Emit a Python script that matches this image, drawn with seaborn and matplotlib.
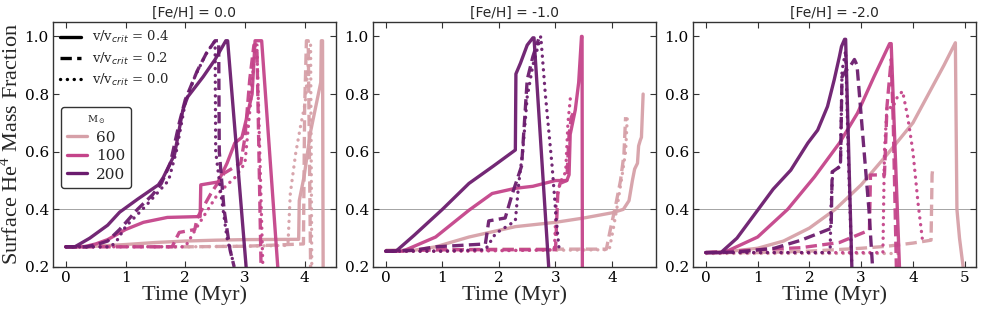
import numpy as np
import pandas as pd
import matplotlib
matplotlib.use("Agg")
import matplotlib.pyplot as plt
from matplotlib.lines import Line2D
import seaborn as sns

# ---- [Fe/H] = 0.0 ----
fe0_m200_v4_t = [0, 0.15, 0.4, 0.7, 0.9, 1.2, 1.55, 1.63, 1.82, 1.96, 2.04, 2.3, 2.5, 2.68, 2.71, 3.02]
fe0_m200_v4_y = [0.27, 0.27, 0.3, 0.345, 0.39, 0.435, 0.485, 0.51, 0.59, 0.745, 0.79, 0.86, 0.92, 0.985, 0.985, 0.2]
fe0_m200_v2_t = [0, 0.35, 0.55, 0.7, 0.9, 1.2, 1.45, 1.6, 1.75, 1.9, 2.0, 2.2, 2.35, 2.5, 2.56, 2.57, 2.65, 2.75, 2.82]
fe0_m200_v2_y = [0.27, 0.27, 0.28, 0.29, 0.33, 0.40, 0.45, 0.49, 0.56, 0.70, 0.78, 0.88, 0.94, 0.985, 0.985, 0.6, 0.4, 0.26, 0.2]
fe0_m200_v0_t = [0, 0.75, 0.85, 1.0, 1.33, 1.72, 1.85, 2.0, 2.16, 2.35, 2.48, 2.5, 2.51, 2.6, 2.7, 2.8]
fe0_m200_v0_y = [0.27, 0.27, 0.29, 0.34, 0.41, 0.5, 0.6, 0.77, 0.86, 0.94, 0.98, 0.98, 0.6, 0.45, 0.3, 0.22]
fe0_m100_v4_t = [0, 0.3, 0.5, 0.7, 1.0, 1.3, 1.7, 2.25, 2.26, 2.55, 2.7, 2.83, 2.95, 3.02, 3.12, 3.17, 3.28, 3.55]
fe0_m100_v4_y = [0.27, 0.27, 0.28, 0.295, 0.33, 0.355, 0.372, 0.375, 0.485, 0.495, 0.56, 0.63, 0.65, 0.71, 0.80, 0.985, 0.985, 0.2]
fe0_m100_v2_t = [0, 1.78, 1.85, 1.9, 2.16, 2.2, 2.43, 2.65, 2.93, 3.0, 3.08, 3.15, 3.2, 3.27]
fe0_m100_v2_y = [0.27, 0.27, 0.3, 0.32, 0.33, 0.37, 0.455, 0.525, 0.56, 0.65, 0.85, 0.97, 0.97, 0.2]
fe0_m100_v0_t = [0, 2.0, 2.2, 2.55, 2.83, 3.0, 3.09, 3.17, 3.2, 3.3]
fe0_m100_v0_y = [0.27, 0.27, 0.34, 0.455, 0.51, 0.56, 0.76, 0.97, 0.97, 0.2]
fe0_m60_v4_t = [0, 0.5, 1.0, 1.5, 2.0, 2.5, 3.0, 3.9, 3.91, 3.99, 4.1, 4.27, 4.28, 4.3, 4.31]
fe0_m60_v4_y = [0.27, 0.272, 0.278, 0.285, 0.29, 0.293, 0.295, 0.296, 0.43, 0.513, 0.67, 0.84, 0.985, 0.985, 0.2]
fe0_m60_v2_t = [0, 1.0, 2.0, 3.0, 3.98, 4.0, 4.03, 4.06, 4.1]
fe0_m60_v2_y = [0.27, 0.272, 0.27, 0.272, 0.28, 0.75, 0.985, 0.985, 0.2]
fe0_m60_v0_t = [0, 1.0, 2.0, 3.0, 3.72, 3.76, 3.85, 3.93, 4.01, 4.07, 4.1, 4.12]
fe0_m60_v0_y = [0.27, 0.272, 0.27, 0.272, 0.275, 0.455, 0.594, 0.687, 0.77, 0.93, 0.97, 0.2]

# ---- [Fe/H] = -1.0 ----
fe1_m200_v4_t = [0, 0.18, 0.5, 1.0, 1.47, 1.9, 2.29, 2.3, 2.38, 2.5, 2.6, 2.62, 2.88]
fe1_m200_v4_y = [0.255, 0.255, 0.31, 0.4, 0.49, 0.55, 0.606, 0.87, 0.907, 0.97, 0.995, 0.995, 0.2]
fe1_m200_v2_t = [0, 0.5, 0.88, 1.76, 1.82, 2.11, 2.23, 2.4, 2.45, 2.5, 2.6, 2.7]
fe1_m200_v2_y = [0.255, 0.258, 0.27, 0.28, 0.36, 0.37, 0.45, 0.55, 0.7, 0.85, 0.93, 0.99]
fe1_m200_v0_t = [0, 1.0, 1.76, 1.94, 2.29, 2.35, 2.42, 2.5, 2.6, 2.74, 2.82, 2.94, 3.02, 3.06]
fe1_m200_v0_y = [0.255, 0.255, 0.26, 0.316, 0.36, 0.49, 0.6, 0.79, 0.9, 1.0, 0.8, 0.55, 0.35, 0.27]
fe1_m100_v4_t = [0, 0.3, 0.88, 1.47, 1.88, 2.29, 2.6, 3.0, 3.2, 3.24, 3.26, 3.35, 3.41, 3.46, 3.47, 3.475]
fe1_m100_v4_y = [0.255, 0.255, 0.304, 0.397, 0.455, 0.473, 0.48, 0.5, 0.5, 0.52, 0.66, 0.745, 0.84, 1.0, 1.0, 0.2]
fe1_m100_v2_t = [0, 1.0, 2.0, 3.0, 3.04, 3.08, 3.2, 3.24, 3.28, 3.35]
fe1_m100_v2_y = [0.255, 0.26, 0.26, 0.26, 0.45, 0.49, 0.5, 0.66, 0.72, 0.75]
fe1_m100_v0_t = [0, 1.5, 2.5, 2.98, 3.02, 3.1, 3.18, 3.22, 3.27]
fe1_m100_v0_y = [0.255, 0.255, 0.258, 0.26, 0.45, 0.5, 0.53, 0.7, 0.8]
fe1_m60_v4_t = [0, 0.5, 0.88, 1.47, 1.88, 2.29, 3.0, 3.5, 4.0, 4.2, 4.3, 4.36, 4.4, 4.45, 4.47, 4.5, 4.52, 4.55]
fe1_m60_v4_y = [0.255, 0.258, 0.27, 0.304, 0.322, 0.34, 0.355, 0.37, 0.388, 0.4, 0.43, 0.5, 0.54, 0.56, 0.62, 0.64, 0.65, 0.8]
fe1_m60_v2_t = [0, 1.0, 2.0, 3.0, 3.9, 3.97, 4.06, 4.15, 4.21, 4.24]
fe1_m60_v2_y = [0.258, 0.26, 0.262, 0.262, 0.262, 0.33, 0.41, 0.50, 0.59, 0.72]
fe1_m60_v0_t = [0, 1.0, 2.0, 3.0, 3.95, 4.02, 4.1, 4.18, 4.24, 4.27]
fe1_m60_v0_y = [0.255, 0.255, 0.258, 0.258, 0.26, 0.33, 0.42, 0.52, 0.6, 0.72]

# ---- [Fe/H] = -2.0 ----
fe2_m200_v4_t = [0, 0.29, 0.6, 1.0, 1.3, 1.64, 1.97, 2.16, 2.35, 2.48, 2.58, 2.62, 2.68, 2.7, 2.82]
fe2_m200_v4_y = [0.25, 0.25, 0.3, 0.397, 0.47, 0.536, 0.63, 0.675, 0.757, 0.85, 0.93, 0.965, 0.99, 0.99, 0.2]
fe2_m200_v2_t = [0, 0.6, 1.32, 1.84, 2.42, 2.44, 2.6, 2.63, 2.7, 2.8, 2.87, 2.92, 3.06, 3.15, 3.22]
fe2_m200_v2_y = [0.25, 0.252, 0.265, 0.293, 0.334, 0.53, 0.55, 0.86, 0.88, 0.9, 0.92, 0.9, 0.594, 0.4, 0.2]
fe2_m200_v0_t = [0, 1.0, 2.0, 2.4, 2.42, 2.45, 2.6, 2.63, 2.7, 2.75, 2.82]
fe2_m200_v0_y = [0.25, 0.25, 0.25, 0.25, 0.42, 0.53, 0.55, 0.88, 0.95, 0.6, 0.2]
fe2_m100_v4_t = [0, 0.35, 1.0, 1.58, 2.1, 2.58, 2.93, 3.25, 3.55, 3.58, 3.74]
fe2_m100_v4_y = [0.25, 0.25, 0.304, 0.4, 0.513, 0.63, 0.734, 0.861, 0.975, 0.975, 0.2]
fe2_m100_v2_t = [0, 1.0, 1.84, 2.58, 3.16, 3.18, 3.45, 3.5, 3.58, 3.62, 3.68]
fe2_m100_v2_y = [0.25, 0.26, 0.267, 0.285, 0.328, 0.519, 0.52, 0.76, 0.92, 0.7, 0.2]
fe2_m100_v0_t = [0, 1.0, 2.0, 3.0, 3.42, 3.45, 3.5, 3.6, 3.7, 3.8, 3.9, 4.0, 4.1, 4.18]
fe2_m100_v0_y = [0.25, 0.25, 0.25, 0.25, 0.25, 0.6, 0.76, 0.75, 0.79, 0.81, 0.72, 0.6, 0.42, 0.3]
fe2_m60_v4_t = [0, 0.5, 1.0, 1.5, 2.0, 2.5, 3.0, 3.5, 4.0, 4.3, 4.6, 4.82, 4.85, 4.9, 4.97]
fe2_m60_v4_y = [0.25, 0.255, 0.265, 0.29, 0.335, 0.4, 0.485, 0.59, 0.70, 0.8, 0.9, 0.978, 0.4, 0.3, 0.2]
fe2_m60_v2_t = [0, 1.0, 2.0, 2.5, 3.0, 3.5, 4.0, 4.35, 4.37, 4.38]
fe2_m60_v2_y = [0.25, 0.25, 0.255, 0.26, 0.265, 0.272, 0.283, 0.293, 0.52, 0.536]
fe2_m60_v0_t = [0, 1.0, 2.0, 3.0, 3.5, 3.77]
fe2_m60_v0_y = [0.25, 0.25, 0.25, 0.25, 0.25, 0.25]

feh_titles = ["[Fe/H] = 0.0", "[Fe/H] = -1.0", "[Fe/H] = -2.0"]
masses = [60, 100, 200]
vrots = [0.4, 0.2, 0.0]
mass_colors = {60: "#d6a0a8", 100: "#c4448a", 200: "#6b1c6e"}
vrot_styles = {0.4: "-", 0.2: "--", 0.0: ":"}

tracks = [
    (0, 60, 0.4, fe0_m60_v4_t, fe0_m60_v4_y), (0, 60, 0.2, fe0_m60_v2_t, fe0_m60_v2_y), (0, 60, 0.0, fe0_m60_v0_t, fe0_m60_v0_y),
    (0, 100, 0.4, fe0_m100_v4_t, fe0_m100_v4_y), (0, 100, 0.2, fe0_m100_v2_t, fe0_m100_v2_y), (0, 100, 0.0, fe0_m100_v0_t, fe0_m100_v0_y),
    (0, 200, 0.4, fe0_m200_v4_t, fe0_m200_v4_y), (0, 200, 0.2, fe0_m200_v2_t, fe0_m200_v2_y), (0, 200, 0.0, fe0_m200_v0_t, fe0_m200_v0_y),
    (1, 60, 0.4, fe1_m60_v4_t, fe1_m60_v4_y), (1, 60, 0.2, fe1_m60_v2_t, fe1_m60_v2_y), (1, 60, 0.0, fe1_m60_v0_t, fe1_m60_v0_y),
    (1, 100, 0.4, fe1_m100_v4_t, fe1_m100_v4_y), (1, 100, 0.2, fe1_m100_v2_t, fe1_m100_v2_y), (1, 100, 0.0, fe1_m100_v0_t, fe1_m100_v0_y),
    (1, 200, 0.4, fe1_m200_v4_t, fe1_m200_v4_y), (1, 200, 0.2, fe1_m200_v2_t, fe1_m200_v2_y), (1, 200, 0.0, fe1_m200_v0_t, fe1_m200_v0_y),
    (2, 60, 0.4, fe2_m60_v4_t, fe2_m60_v4_y), (2, 60, 0.2, fe2_m60_v2_t, fe2_m60_v2_y), (2, 60, 0.0, fe2_m60_v0_t, fe2_m60_v0_y),
    (2, 100, 0.4, fe2_m100_v4_t, fe2_m100_v4_y), (2, 100, 0.2, fe2_m100_v2_t, fe2_m100_v2_y), (2, 100, 0.0, fe2_m100_v0_t, fe2_m100_v0_y),
    (2, 200, 0.4, fe2_m200_v4_t, fe2_m200_v4_y), (2, 200, 0.2, fe2_m200_v2_t, fe2_m200_v2_y), (2, 200, 0.0, fe2_m200_v0_t, fe2_m200_v0_y),
]

sns.set_style("ticks")
plt.rcParams["font.family"] = ["DejaVu Serif"]
plt.rcParams["mathtext.fontset"] = "dejavusans"

dash_pat = (3.4, 1.6)
dot_pat = (0.05, 2.0)

fig = plt.figure(figsize=(9.83, 3.13), dpi=100)
lefts = [53, 373, 693]
axes = []
for i, l in enumerate(lefts):
    ax = fig.add_axes([l / 983, 1 - 267 / 313, 283 / 983, 245 / 313])
    axes.append(ax)

lw = 2.4
for panel, m, v, t, y in tracks:
    ax = axes[panel]
    d = pd.DataFrame({"time": t, "he4": y})
    sns.lineplot(data=d, x="time", y="he4", ax=ax, sort=False, estimator=None,
                 color=mass_colors[m], lw=lw, linestyle=vrot_styles[v], alpha=0.95)
    line = ax.get_lines()[-1]
    if v == 0.0:
        line.set_dashes(dot_pat)
        line.set_dash_capstyle("round")
    elif v == 0.2:
        line.set_dashes(dash_pat)

for i, ax in enumerate(axes):
    ax.axhline(0.4, color="gray", lw=0.5, zorder=0)
    ax.set_ylim(0.2, 1.05)
    ax.set_yticks([0.2, 0.4, 0.6, 0.8, 1.0])
    ax.set_xticks(range(0, 6 if i == 2 else 5))
    ax.tick_params(direction="in", top=True, right=True, length=4, width=0.8,
                   labelsize=11, colors="#333333", labelcolor="black", pad=3)
    for s in ax.spines.values():
        s.set_color("#333333")
        s.set_linewidth(1.0)
    ax.set_title(feh_titles[i], fontsize=10, family="DejaVu Sans", pad=4)
    ax.set_xlabel("Time (Myr)", fontsize=16, family="Liberation Serif", labelpad=0)
    ax.set_ylabel("")

axes[0].set_ylabel("Surface He$^\\mathregular{4}$ Mass Fraction", fontsize=16,
                   family="Liberation Serif", labelpad=1)

style_handles = [Line2D([], [], color="black", lw=2.4, linestyle=vrot_styles[v]) for v in vrots]
style_handles[1].set_dashes(dash_pat)
style_handles[2].set_dashes(dot_pat)
style_handles[2].set_dash_capstyle("round")
leg1 = axes[0].legend(style_handles, ["v/v$_{crit}$ = %.1f" % v for v in vrots],
                      loc="upper left", frameon=False, fontsize=9.5, handlelength=1.6,
                      borderaxespad=0.15, labelspacing=0.4)
axes[0].add_artist(leg1)

mass_handles = [Line2D([], [], color=mass_colors[m], lw=2.4) for m in masses]
leg2 = axes[0].legend(mass_handles, [str(m) for m in masses], title="M$_\\odot$",
                      loc="upper left", bbox_to_anchor=(0.028, 0.653), borderaxespad=0,
                      fontsize=11, title_fontsize=7, handlelength=1.3, handletextpad=0.6,
                      frameon=True, fancybox=True, edgecolor="#333333", framealpha=1,
                      labelspacing=0.3)

fig.savefig("out.png", dpi=100)
